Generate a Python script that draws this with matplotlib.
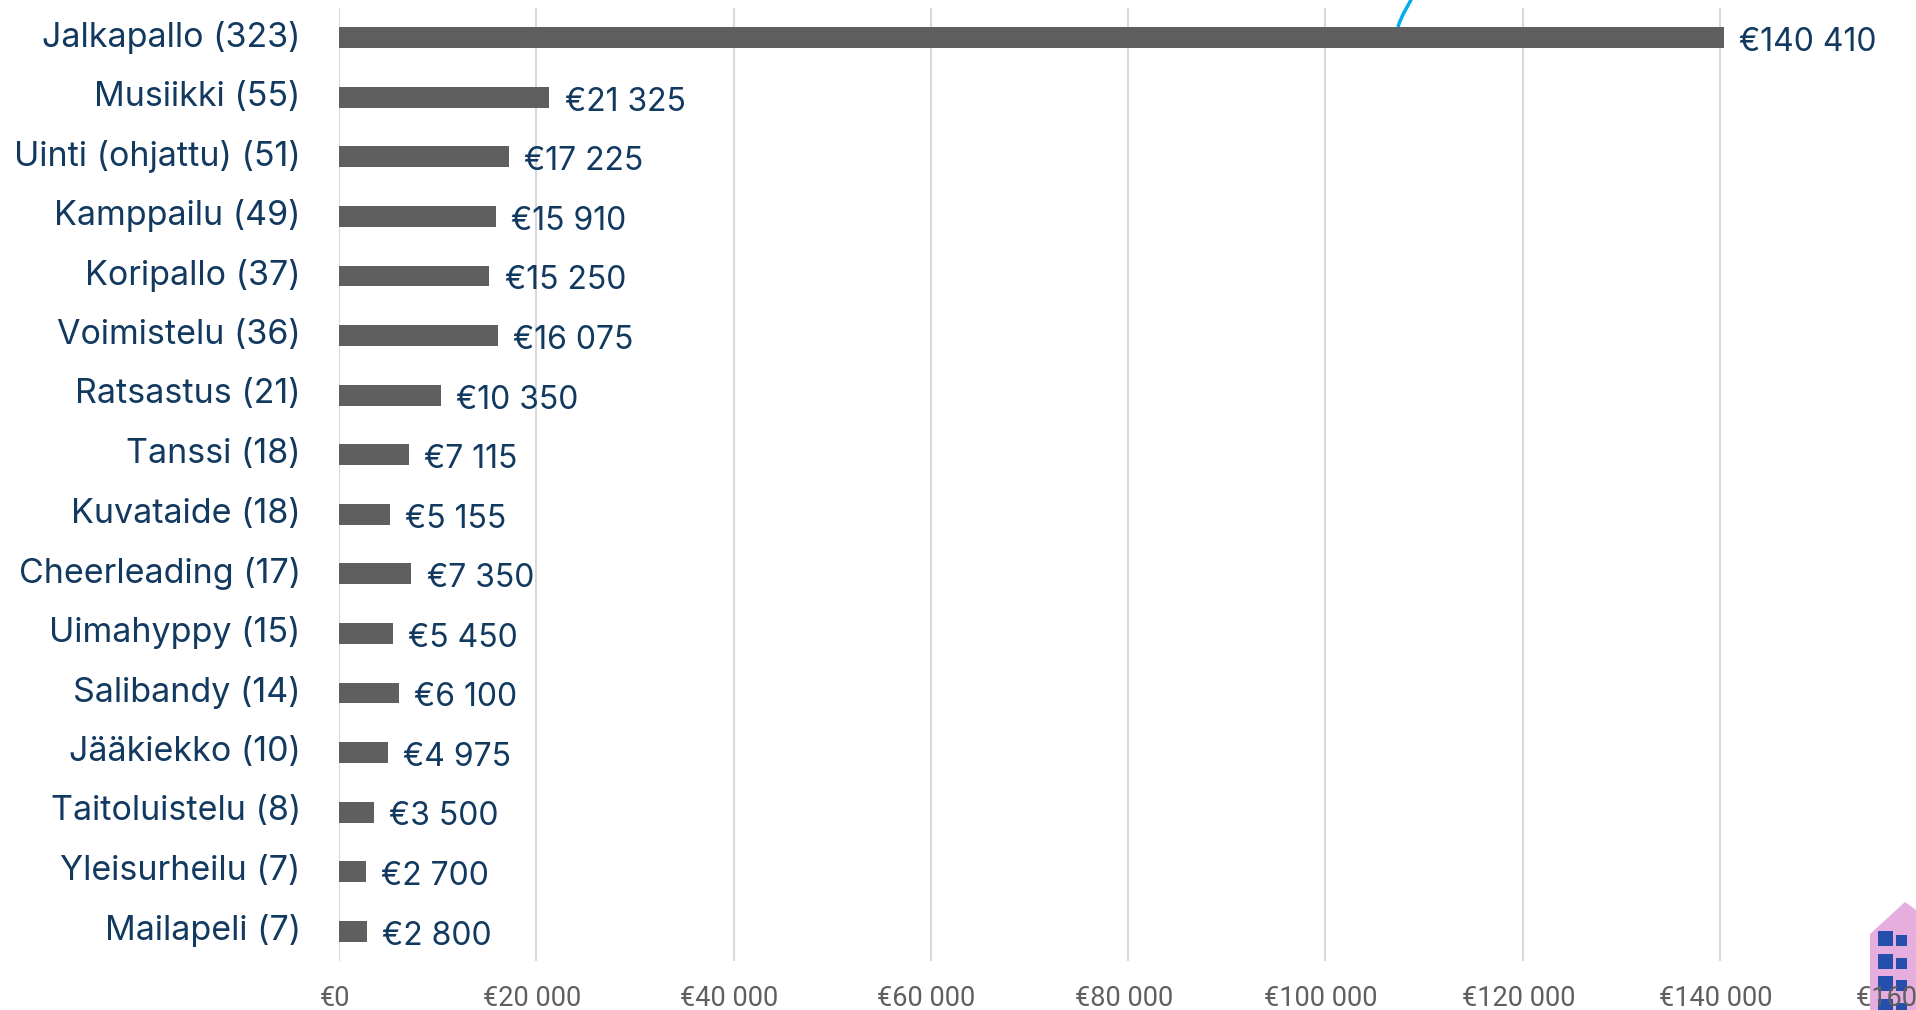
import matplotlib.pyplot as plt
from matplotlib.patches import Polygon, Rectangle, PathPatch
from matplotlib.path import Path
from matplotlib.transforms import ScaledTranslation

# data
categories = ["Jalkapallo (323)", "Musiikki (55)", "Uinti (ohjattu) (51)", "Kamppailu (49)",
              "Koripallo (37)", "Voimistelu (36)", "Ratsastus (21)", "Tanssi (18)",
              "Kuvataide (18)", "Cheerleading (17)", "Uimahyppy (15)", "Salibandy (14)",
              "Jääkiekko (10)", "Taitoluistelu (8)", "Yleisurheilu (7)", "Mailapeli (7)"]
values = [140410, 21325, 17225, 15910, 15250, 16075, 10350, 7115,
          5155, 7350, 5450, 6100, 4975, 3500, 2700, 2800]
xticks = [0, 20000, 40000, 60000, 80000, 100000, 120000, 140000, 160000]

W, H = 1916, 1010
NAVY = "#12395f"
GREY = "#5f5f5f"
FONT = "Inter"


def euro(v):
    return "€" + f"{v:,}".replace(",", " ")


fig = plt.figure(figsize=(W / 100, H / 100), dpi=100, facecolor="white")
ax = fig.add_axes([339 / W, 1 - 961 / H, (1917 - 339) / W, (961 - 8) / H], zorder=10)
ax.patch.set_visible(False)

ypos = list(range(len(categories)))
ax.barh(ypos, values, height=0.35, color=GREY, zorder=3)
ax.set_xlim(0, 160000)
ax.set_ylim(len(categories) - 0.5, -0.5)
ax.set_xticks(xticks)
ax.set_xticklabels([euro(v) for v in xticks], fontsize=19.5, color=GREY, family="Roboto")
ax.set_yticks(ypos)
ax.set_yticklabels(categories, fontsize=24.5, color=NAVY, family=FONT)
ax.tick_params(axis="x", length=0, pad=17.5)
ax.tick_params(axis="y", length=0, pad=27.5)
ax.grid(axis="x", color="#d9d9d9", linewidth=1.5, zorder=0)
ax.set_axisbelow(True)
for s in ax.spines.values():
    s.set_visible(False)

# nudge tick labels the way the original sits
for lab in ax.get_yticklabels():
    lab.set_transform(lab.get_transform() + ScaledTranslation(0, 3 / 72, fig.dpi_scale_trans))
for lab in ax.get_xticklabels():
    lab.set_transform(lab.get_transform() + ScaledTranslation(-3 / 72, 0, fig.dpi_scale_trans))

# value labels
for y, v in zip(ypos, values):
    ax.annotate(euro(v), (v, y), xytext=(11, -3.5), textcoords="offset points",
                va="center", ha="left", fontsize=23, color=NAVY, family=FONT, zorder=4)


# decorations in pixel space
def px(x, y):
    return (x / W, 1 - y / H)


arc = Path([px(1398, 27), px(1402, 14), px(1408, 6), px(1412, -2)],
           [Path.MOVETO, Path.CURVE4, Path.CURVE4, Path.CURVE4])
fig.add_artist(PathPatch(arc, fill=False, edgecolor="#00aeef", linewidth=2.5,
                         transform=fig.transFigure, zorder=1))

house = [px(1870, 1010), px(1870, 934), px(1905, 902), px(1916, 910), px(1916, 1010)]
fig.add_artist(Polygon(house, closed=True, facecolor="#e6aede", edgecolor="none",
                       transform=fig.transFigure, zorder=2))
for top in [931, 954, 976, 999]:
    bottom = min(top + 15, 1010)
    fig.add_artist(Rectangle(px(1878, bottom), 15 / W, (bottom - top) / H, facecolor="#254ead",
                             edgecolor="none", transform=fig.transFigure, zorder=3))
    fig.add_artist(Rectangle(px(1896, bottom), 11 / W, (bottom - top - 4) / H, facecolor="#254ead",
                             edgecolor="none", transform=fig.transFigure, zorder=3))

plt.savefig("out.png", dpi=100)
